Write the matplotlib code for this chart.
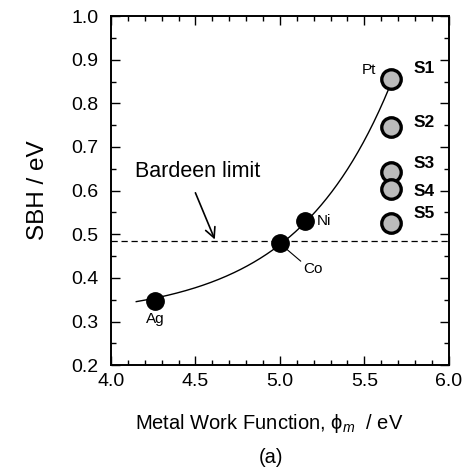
import numpy as np
import matplotlib.pyplot as plt
from matplotlib.ticker import MultipleLocator

plt.rcParams['font.family'] = ['Liberation Sans', 'DejaVu Sans']
plt.rcParams['mathtext.fontset'] = 'custom'
plt.rcParams['mathtext.it'] = 'Liberation Sans:italic'
plt.rcParams['mathtext.rm'] = 'Liberation Sans'

# metal contacts
metals = ['Ag', 'Co', 'Ni', 'Pt']
metal_wf = [4.26, 5.00, 5.15, 5.66]
metal_sbh = [0.346, 0.479, 0.530, 0.855]

# samples
samples = ['S1', 'S2', 'S3', 'S4', 'S5']
sample_wf = [5.66, 5.66, 5.66, 5.66, 5.66]
sample_sbh = [0.855, 0.745, 0.642, 0.603, 0.525]

# guide curve
curve_x = [4.15, 4.26, 4.45, 4.76, 5.00, 5.15, 5.24, 5.59, 5.66, 5.686]
curve_y = [0.337, 0.346, 0.381, 0.429, 0.479, 0.530, 0.562, 0.755, 0.855, 0.89]

bardeen = 0.485

fig = plt.figure(figsize=(4.7, 4.73), dpi=100)
ax = fig.add_axes([0.236, 0.228, 0.719, 0.738])

# smooth guide line: y = a + b*exp(k*x), least squares over k
cx = np.array(curve_x)
cy = np.array(curve_y)
best = None
for k in np.linspace(0.5, 6, 200):
    A = np.column_stack([np.ones_like(cx), np.exp(k * cx)])
    coef, res, *_ = np.linalg.lstsq(A, cy, rcond=None)
    err = np.sum((A @ coef - cy) ** 2)
    if best is None or err < best[0]:
        best = (err, k, coef)
_, k, (a, b) = best
xs = np.linspace(cx[0], cx[-1], 200)
ax.plot(xs, a + b * np.exp(k * xs), color='black', lw=1.0, zorder=2)

ax.axhline(bardeen, color='black', lw=0.9, ls=(0, (5, 3)), zorder=1)

ax.plot(metal_wf[:3], metal_sbh[:3], 'o', ms=12.5, color='black', zorder=3)
ax.plot(sample_wf, sample_sbh, 'o', ms=14, mfc='#bbbbbb', mec='black', mew=2.4, zorder=4)

# metal labels
ax.text(metal_wf[0], metal_sbh[0] - 0.04, 'Ag', ha='center', va='center', fontsize=11)
ax.annotate('Co', xy=(metal_wf[1], metal_sbh[1]), xytext=(5.14, 0.42),
            fontsize=11, ha='left', va='center',
            arrowprops=dict(arrowstyle='-', color='black', lw=0.8, shrinkA=0, shrinkB=0,
                            relpos=(0, 0.9)))
ax.text(metal_wf[2] + 0.07, metal_sbh[2], 'Ni', ha='left', va='center', fontsize=11)
ax.text(metal_wf[3] - 0.09, metal_sbh[3] + 0.022, 'Pt', ha='right', va='center', fontsize=11)

label_dy = [0.024, 0.010, 0.020, -0.006, 0.023]
for name, x, y, dy in zip(samples, sample_wf, sample_sbh, label_dy):
    ax.text(x + 0.13, y + dy, name, ha='left', va='center', fontsize=12.5, fontweight='bold')

ax.text(4.14, 0.643, 'Bardeen limit', ha='left', va='center', fontsize=15.5)
ax.annotate('', xy=(4.615, bardeen + 0.003), xytext=(4.5, 0.595),
            arrowprops=dict(arrowstyle='->', color='black', lw=1.2,
                            mutation_scale=18, shrinkA=0, shrinkB=0))

ax.set_xlim(4.0, 6.0)
ax.set_ylim(0.2, 1.0)
ax.xaxis.set_major_locator(MultipleLocator(0.5))
ax.xaxis.set_minor_locator(MultipleLocator(0.1))
ax.yaxis.set_major_locator(MultipleLocator(0.1))
ax.yaxis.set_minor_locator(MultipleLocator(0.05))
ax.tick_params(which='both', direction='in', top=True, right=True, labelsize=14, width=1)
ax.tick_params(which='major', length=6.5)
ax.tick_params(axis='y', pad=9)
ax.tick_params(axis='x', pad=6)
ax.tick_params(which='minor', length=3.5)
for s in ax.spines.values():
    s.set_linewidth(1.4)

ax.set_ylabel('SBH / eV', fontsize=17.5, labelpad=16)
fig.text(0.572, 1 - 423 / 473, 'Metal Work Function, \u03d5$_{m}$  / eV',
         ha='center', va='center', fontsize=14.5)
fig.text(0.576, 1 - 457 / 473, '(a)', ha='center', va='center', fontsize=14.5)

fig.savefig('out.png', dpi=100)
